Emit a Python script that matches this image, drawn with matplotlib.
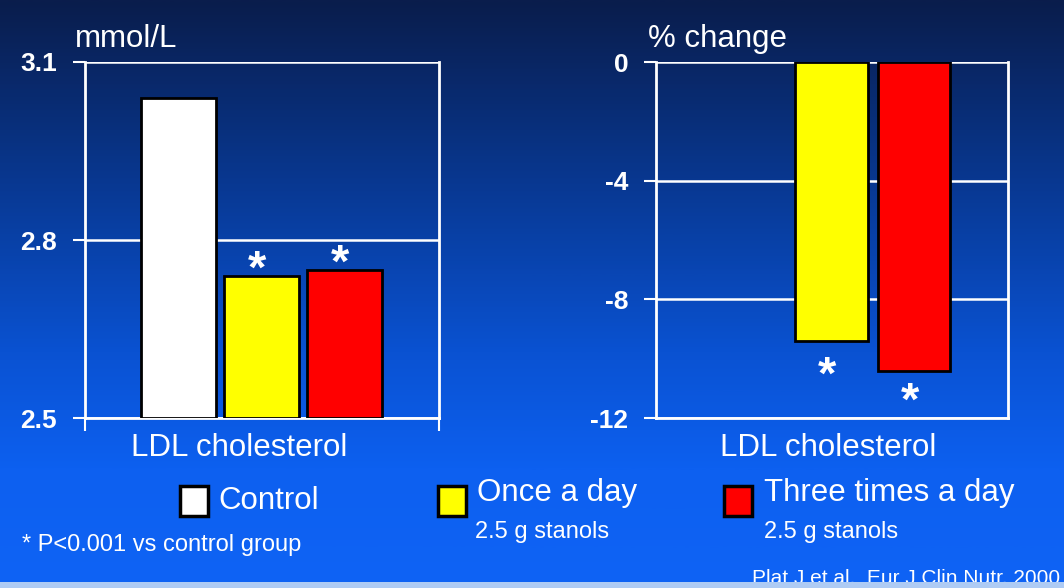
import matplotlib
matplotlib.use("Agg")
import matplotlib.pyplot as plt
import numpy as np
from matplotlib.colors import LinearSegmentedColormap
from matplotlib.patches import Rectangle

# data
groups = ["Control", "Once a day", "Three times a day"]
colors = ["#FFFFFF", "#FFFF00", "#FF0000"]
ldl_mmol = [3.04, 2.74, 2.75]
pct_groups = ["Once a day", "Three times a day"]
pct_change = [-9.4, -10.4]
left_ticks = [2.5, 2.8, 3.1]
right_ticks = [-12, -8, -4, 0]

W, H = 1064, 588
WHITE = "#FFFFFF"
BIG = 22.5
SMALL = 17

plt.rcParams["font.family"] = ["Liberation Sans", "DejaVu Sans"]

fig = plt.figure(figsize=(W / 100, H / 100), dpi=100)

# background gradient
bg = fig.add_axes([0, 0, 1, 1], zorder=-10)
cmap = LinearSegmentedColormap.from_list(
    "slide",
    [(0.0, "#0a1d4c"), (0.3, "#08378f"), (0.6, "#0a52d2"), (0.8, "#0d60f0"), (1.0, "#0f63f5")],
)
grad = np.linspace(0, 1, 400).reshape(-1, 1)
bg.imshow(grad, aspect="auto", cmap=cmap, extent=[0, 1, 0, 1], origin="upper")
bg.set_xlim(0, 1)
bg.set_ylim(0, 1)
bg.axis("off")


def px(x, y):
    return x / W, 1 - y / H


def style_axes(ax, ticks):
    ax.patch.set_visible(False)
    for s in ("left", "right", "bottom"):
        ax.spines[s].set_color(WHITE)
        ax.spines[s].set_linewidth(2)
    ax.spines["top"].set_visible(False)
    ax.set_yticks(ticks)
    ax.set_yticklabels([f"{t:g}" for t in ticks], fontsize=19, fontweight="bold", color=WHITE)
    ax.tick_params(axis="y", colors=WHITE, length=9, width=1.5, pad=11)
    ax.grid(True, axis="y", color=WHITE, linewidth=1.8)
    ax.set_axisbelow(True)
    ax.set_xlim(-1.13, 3.14)


def star(ax, x, y, dy):
    ax.annotate("*", (x - 0.05, y), xytext=(0, dy), textcoords="offset points",
                ha="center", va="baseline", fontsize=34, fontweight="bold", color=WHITE)


# left panel: absolute LDL
ax1 = fig.add_axes([85 / W, 1 - 418 / H, 354 / W, 356 / H])
style_axes(ax1, left_ticks)
ax1.set_ylim(2.5, 3.1)
x1 = np.arange(len(groups))
ax1.bar(x1, [v - 2.5 for v in ldl_mmol], bottom=2.5, width=0.9, color=colors,
        edgecolor="black", linewidth=2, zorder=3)
ax1.set_xticks([-1.13, 3.14])
ax1.set_xticklabels(["", ""])
ax1.tick_params(axis="x", colors=WHITE, length=9, width=1.5)
for i in (1, 2):
    star(ax1, x1[i], ldl_mmol[i], -5)

# right panel: percent change
ax2 = fig.add_axes([656 / W, 1 - 418 / H, 352 / W, 356 / H])
style_axes(ax2, right_ticks)
ax2.set_ylim(-12, 0)
x2 = np.arange(1, len(pct_groups) + 1)
ax2.bar(x2, pct_change, width=0.88, color=colors[1:], edgecolor="black", linewidth=2, zorder=3)
ax2.set_xticks([])
for xi, v, dy in zip(x2, pct_change, (-34.5, -32)):
    star(ax2, xi, v, dy)

# axis captions
fig.text(*px(75, 39), "mmol/L", fontsize=BIG, color=WHITE, va="center", ha="left")
fig.text(*px(648, 39), "% change", fontsize=BIG, color=WHITE, va="center", ha="left")
fig.text(*px(239, 448), "LDL cholesterol", fontsize=BIG, color=WHITE, va="center", ha="center")
fig.text(*px(828, 448), "LDL cholesterol", fontsize=BIG, color=WHITE, va="center", ha="center")

# legend drawn by hand, as on the slide
legend_boxes = [(180, 486), (438, 486), (724, 486)]
for (bx, by), c in zip(legend_boxes, colors):
    fig.patches.append(Rectangle(px(bx, by + 30), 28 / W, 30 / H, facecolor=c,
                                 edgecolor="black", linewidth=2.5, transform=fig.transFigure))
fig.text(*px(218, 501), groups[0], fontsize=BIG, color=WHITE, va="center")
fig.text(*px(477, 493), groups[1], fontsize=BIG, color=WHITE, va="center")
fig.text(*px(764, 493), groups[2], fontsize=BIG, color=WHITE, va="center")
fig.text(*px(475, 532), "2.5 g stanols", fontsize=SMALL, color=WHITE, va="center")
fig.text(*px(764, 532), "2.5 g stanols", fontsize=SMALL, color=WHITE, va="center")
fig.text(*px(22, 545), "* P<0.001 vs control group", fontsize=SMALL, color=WHITE, va="center")
fig.text(*px(752, 579), "Plat J et al.  Eur J Clin Nutr. 2000", fontsize=15, color=WHITE,
         va="center", ha="left", zorder=1)

# light strip at the bottom edge clips the citation
fig.patches.append(Rectangle((0, 0), 1, 6 / H, facecolor="#aecbf4", edgecolor="none",
                             transform=fig.transFigure, zorder=10))

fig.savefig("out.png", dpi=100)
